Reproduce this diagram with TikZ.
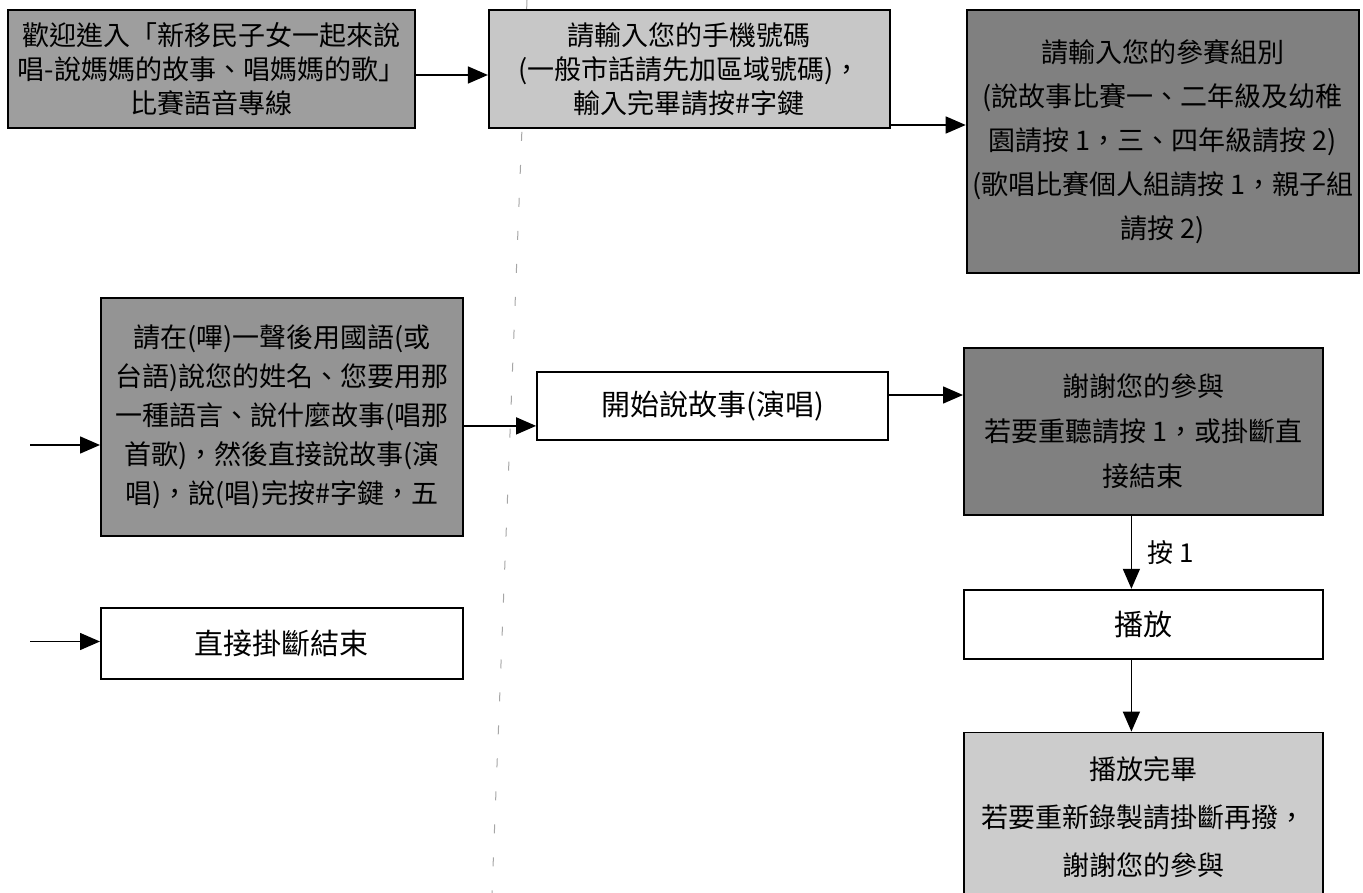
\documentclass[tikz,border=0pt]{standalone}
\usepackage{fontspec}
\setmainfont{Noto Sans CJK TC}
\usetikzlibrary{positioning}
\usetikzlibrary{arrows.meta}
\usetikzlibrary{calc}

\begin{document}
\begin{tikzpicture}[x=1pt,y=1pt,->,>={Triangle[length=20pt,width=17pt]},
			line width=1.5pt,node distance=72pt]
			\tikzstyle{stepbox}=[draw,line width=1.8pt,align=center,inner sep=0pt,
			font=\fontsize{27}{34}\selectfont]
			\tikzstyle{plainbox}=[stepbox,fill=white,font=\fontsize{29}{37}\selectfont]
			
			\path[use as bounding box,clip] (0,0) rectangle (1363,-893);
			
			% faint fold line of the scan
			\draw[-,black!35,line width=1pt,dash pattern=on 9pt off 24pt] (527,0) -- (492,-893);
			
			\node[stepbox,fill=black!38,minimum width=407pt,minimum height=118pt]
			(welcome) at (211.5,-69) {歡迎進入「新移民子女一起來說\\唱-說媽媽的故事、唱媽媽的歌」\\比賽語音專線};
			\node[stepbox,fill=black!22,minimum width=401pt,minimum height=118pt]
			(phone) [right=72pt of welcome] {請輸入您的手機號碼\\(一般市話請先加區域號碼)，\\輸入完畢請按\#字鍵};
			\node[stepbox,fill=black!50,minimum width=392pt,minimum height=263pt,
			font=\fontsize{27}{44}\selectfont,anchor=north west]
			(group) at ([xshift=75pt]phone.north east) {請輸入您的參賽組別\\(說故事比賽一、二年級及幼稚\\園請按 1，三、四年級請按 2)\\(歌唱比賽個人組請按 1，親子組\\請按 2)};
			
			\node[stepbox,fill=black!42,minimum width=362pt,minimum height=238pt,
			font=\fontsize{27}{39}\selectfont,anchor=north west]
			(record) at (100,-297) {請在(嗶)一聲後用國語(或\\台語)說您的姓名、您要用那\\一種語言、說什麼故事(唱那\\首歌)，然後直接說故事(演\\唱)，說(唱)完按\#字鍵，五};
			\node[plainbox,minimum width=362pt,minimum height=71pt]
			(hangup) [below=70pt of record] {直接掛斷結束};
			\node[plainbox,minimum width=351pt,minimum height=68pt]
			(start) at (712.5,-406) {開始說故事(演唱)};
			
			\node[stepbox,fill=black!50,minimum width=359pt,minimum height=167pt,
			font=\fontsize{27}{45}\selectfont,anchor=north west]
			(thanks) at (963,-347) {謝謝您的參與\\若要重聽請按 1，或掛斷直\\接結束};
			\node[plainbox,minimum width=359pt,minimum height=69pt]
			(play) [below=73pt of thanks] {播放};
			\node[stepbox,fill=black!20,minimum width=359pt,minimum height=170pt,
			font=\fontsize{27}{48}\selectfont,anchor=north]
			(done) [below=72pt of play] {播放完畢\\若要重新錄製請掛斷再撥，\\謝謝您的參與};
			
			\coordinate (in_record) at (30,-445);
			\coordinate (in_hangup) at (30,-641.5);
			
			\path ([yshift=-6pt]welcome.east) edge ([yshift=-6pt]phone.west)
			([yshift=-56pt]phone.east) edge ([yshift=-56pt]phone.east -| group.west)
			(in_record) edge (in_record -| record.west)
			(in_hangup) edge (in_hangup -| hangup.west)
			([yshift=-9pt]record.east) edge ([yshift=-9pt]record.east -| start.west)
			([yshift=11pt]start.east) edge ([yshift=11pt]start.east -| thanks.west)
			([xshift=-12pt]thanks.south) edge node[right,xshift=12pt,font=\fontsize{26}{30}\selectfont] {按 1} ([xshift=-12pt]play.north)
			([xshift=-12pt]play.south) edge ([xshift=-12pt]done.north)
			;
			\end{tikzpicture}
\end{document}
